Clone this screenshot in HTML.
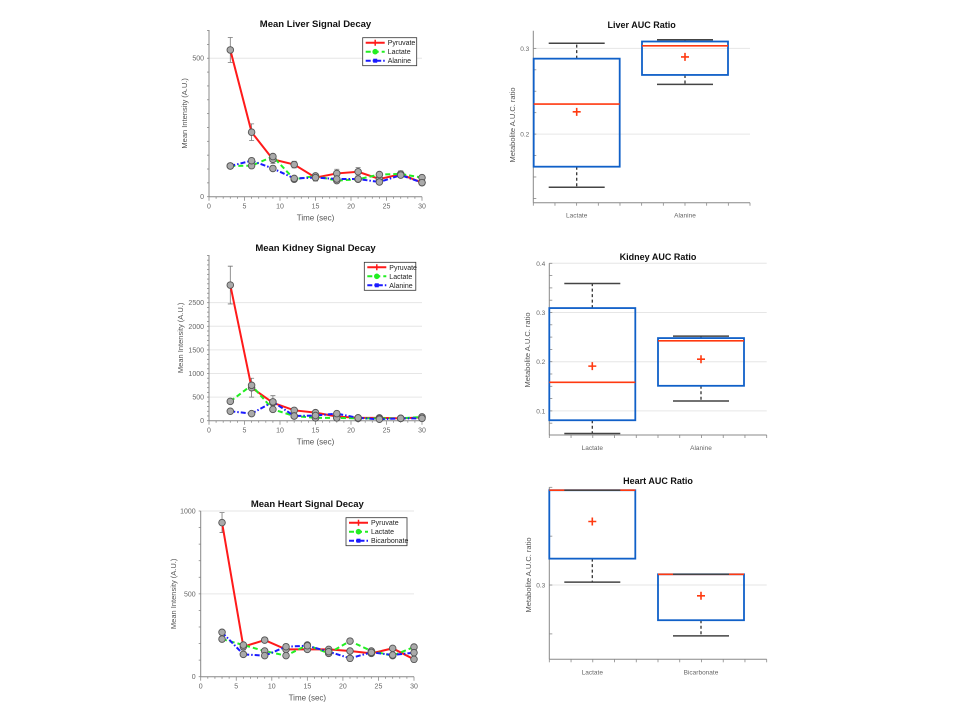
<!DOCTYPE html>
<html><head><meta charset="utf-8">
<style>
html,body{margin:0;padding:0;background:#fff;}
svg{display:block;font-family:"Liberation Sans",Arial,sans-serif;}
</style></head>
<body>
<svg id="fig" width="960" height="720" viewBox="0 0 960 720" xmlns="http://www.w3.org/2000/svg"></svg>
<script>
// ---------- data ----------
const timePoints=[3,6,9,12,15,18,21,24,27,30];
const xTicks=[0,5,10,15,20,25,30];

const liverPyruvate=[530,233,135,116,69,84,90,64,81,51];
const liverLactate=[111,112,145,63,75,58,63,80,82,69];
const liverAlanine=[111,130,102,66,69,64,64,53,78,51];
const liverErr=[45,30,15,12,12,15,15,15,12,10];
const liverYTicks=[0,500];

const kidneyPyruvate=[2873,699,380,220,170,90,60,60,50,70];
const kidneyLactate=[410,750,240,100,60,60,50,50,50,80];
const kidneyAlanine=[200,150,400,100,110,150,60,30,50,50];
const kidneyErr=[400,200,150,50,50,50,30,30,30,30];
const kidneyYTicks=[0,500,1000,1500,2000,2500];

const heartPyruvate=[930,181,221,165,165,165,155,141,171,105];
const heartLactate=[227,191,155,127,191,141,215,155,127,179];
const heartBicarbonate=[268,135,127,181,187,151,111,147,131,145];
const heartErr=[60,20,10,10,10,10,10,10,10,10];
const heartYTicks=[0,500,1000];

const liverBoxCats=['Lactate','Alanine'];
const liverBoxLow=[0.138,0.258];
const liverBoxQ1=[0.162,0.269];
const liverBoxMed=[0.235,0.303];
const liverBoxQ3=[0.288,0.308];
const liverBoxHigh=[0.306,0.310];
const liverBoxMean=[0.226,0.290];
const liverBoxTicks=[0.2,0.3];

const kidneyBoxCats=['Lactate','Alanine'];
const kidneyBoxLow=[0.054,0.120];
const kidneyBoxQ1=[0.081,0.151];
const kidneyBoxMed=[0.158,0.2425];
const kidneyBoxQ3=[0.309,0.248];
const kidneyBoxHigh=[0.359,0.252];
const kidneyBoxMean=[0.191,0.205];
const kidneyBoxTicks=[0.1,0.2,0.3,0.4];

const heartBoxCats=['Lactate','Bicarbonate'];
const heartBoxLow=[0.303,0.248];
const heartBoxQ1=[0.327,0.264];
const heartBoxMed=[0.397,0.311];
const heartBoxQ3=[0.397,0.311];
const heartBoxHigh=[0.397,0.311];
const heartBoxMean=[0.365,0.289];
const heartBoxTicks=[0.3];

// ---------- drawing ----------
const NS='http://www.w3.org/2000/svg';
const svg=document.getElementById('fig');
function mk(tag,attrs,parent){const e=document.createElementNS(NS,tag);for(const k in attrs)e.setAttribute(k,attrs[k]);(parent||svg).appendChild(e);return e;}
function txt(s,attrs,parent){const e=mk('text',attrs,parent);e.textContent=s;return e;}

function lineChart(o){
  const g=mk('g',{});
  
  
  const X=v=>o.x0+(v-0)/30*(o.x1-o.x0);
  const Y=v=>o.y0-v/o.ymax*(o.y0-o.ytop);
  // grid
  o.yTicks.forEach(t=>{ if(t>0){const gl=mk('line',{x1:o.x0,x2:o.x1,y1:Y(t),y2:Y(t),stroke:'#e6e6e6','stroke-width':1},g);
    
    }});
  // axes
  const ya=mk('line',{x1:o.x0,x2:o.x0,y1:o.ytop,y2:o.y0,stroke:'#888','stroke-width':1},g);
  
  
  const xa=mk('line',{x1:o.x0,x2:o.x1,y1:o.y0,y2:o.y0,stroke:'#888','stroke-width':1},g);
  
  
  for(let v=0;v<=30;v++){const len=v%5==0?4:2;const tk=mk('line',{x1:X(v),x2:X(v),y1:o.y0,y2:o.y0+len,stroke:'#888','stroke-width':0.8},g);
    
    }
  for(let v=0;v<=o.ymax+1e-9;v+=o.minor){const tk=mk('line',{x1:o.x0-2,x2:o.x0,y1:Y(v),y2:Y(v),stroke:'#888','stroke-width':0.8},g);
    
    }
  xTicks.forEach(t=>{const l=txt(String(t),{x:X(t),y:o.y0+12,'font-size':7,fill:'#666','text-anchor':'middle'},g);
    
    });
  o.yTicks.forEach(t=>{const l=txt(String(t),{x:o.x0-5,y:Y(t)+2.5,'font-size':7,fill:'#666','text-anchor':'end'},g);
    
    });
  const ti=txt(o.title,{x:(o.x0+o.x1)/2,y:o.titleY,'font-size':9.5,'font-weight':'bold',fill:'#111','text-anchor':'middle'},g);
  
  
  const xl=txt('Time (sec)',{x:(o.x0+o.x1)/2,y:o.y0+24,'font-size':8,fill:'#555','text-anchor':'middle'},g);
  
  
  const yl=txt('Mean Intensity (A.U.)',{x:0,y:0,'font-size':7.5,fill:'#555','text-anchor':'middle',transform:`translate(${o.ylx},${(o.ytop+o.y0)/2}) rotate(-90)`},g);
  
  
  // error bars (pyruvate)
  timePoints.forEach((t,i)=>{const v=o.s1[i],e=o.err[i];
    const eb=mk('path',{d:`M${X(t)},${Y(v-e)}V${Y(v+e)}M${X(t)-2.5},${Y(v-e)}h5M${X(t)-2.5},${Y(v+e)}h5`,stroke:'#777','stroke-width':0.8,fill:'none'},g);
    
    });
  const series=[[o.s1,'#ff1a1a','',o.n1],[o.s2,'#22ee22','5,3',o.n2],[o.s3,'#1a1aff','5,2,1.5,2',o.n3]];
  series.forEach(([s,c,d,n])=>{
    const p=mk('polyline',{points:timePoints.map((t,i)=>X(t)+','+Y(s[i])).join(' '),fill:'none',stroke:c,'stroke-width':2,'stroke-dasharray':d},g);
    
    
  });
  series.forEach(([s,c,d,n])=>{timePoints.forEach((t,i)=>{
    const m=mk('circle',{cx:X(t),cy:Y(s[i]),r:3.3,fill:'#aaa',stroke:'#555','stroke-width':0.9},g);
    
    });});
  // legend
  const L=o.leg;
  const lg=mk('g',{},g);
  
  
  mk('rect',{x:L[0],y:L[1],width:L[2],height:28,fill:'#fff',stroke:'#333','stroke-width':0.8},lg);
  series.forEach(([s,c,d,n],k)=>{const yy=L[1]+5+k*9;
    const ln=mk('line',{x1:L[0]+3,x2:L[0]+22,y1:yy,y2:yy,stroke:c,'stroke-width':2,'stroke-dasharray':d},lg);
    
    
    if(k==0){mk('path',{d:`M${L[0]+12.5},${yy-3}v6M${L[0]+9.5},${yy}h6`,stroke:c,'stroke-width':1.5},lg);}
    else if(k==1){mk('circle',{cx:L[0]+12.5,cy:yy,r:2.8,fill:c},lg);}
    else{mk('rect',{x:L[0]+10.5,y:yy-2,width:4,height:4,fill:c},lg);}
    const lt=txt(n,{x:L[0]+25,y:yy+2.5,'font-size':7,fill:'#222'},lg);
    
    });
}

function boxChart(o){
  const g=mk('g',{});
  
  
  const Y=v=>o.yb-(v-o.vmin)/(o.vmax-o.vmin)*(o.yb-o.yt);
  o.ticks.forEach(t=>{const gl=mk('line',{x1:o.x0,x2:o.x1,y1:Y(t),y2:Y(t),stroke:'#e6e6e6','stroke-width':1},g);
    
    });
  const ya=mk('line',{x1:o.x0,x2:o.x0,y1:o.yt,y2:o.yb,stroke:'#888','stroke-width':1},g);
  
  
  const xa=mk('line',{x1:o.x0,x2:o.x1,y1:o.yb,y2:o.yb,stroke:'#888','stroke-width':1},g);
  
  
  for(let v=Math.ceil(o.vmin/o.minor-1e-6)*o.minor;v<=o.vmax+1e-9;v+=o.minor){const tk=mk('line',{x1:o.x0,x2:o.x0+3,y1:Y(v),y2:Y(v),stroke:'#888','stroke-width':0.8},g);
    
    }
  const n=10;for(let i=0;i<=n;i++){const xx=o.x0+i*(o.x1-o.x0)/n;const tk=mk('line',{x1:xx,x2:xx,y1:o.yb,y2:o.yb+3,stroke:'#888','stroke-width':0.8},g);
    
    }
  o.ticks.forEach(t=>{const l=txt(String(t),{x:o.x0-4,y:Y(t)+2.5,'font-size':6.5,fill:'#666','text-anchor':'end'},g);
    
    });
  const ti=txt(o.title,{x:(o.x0+o.x1)/2,y:o.titleY,'font-size':9,'font-weight':'bold',fill:'#111','text-anchor':'middle'},g);
  
  
  const yl=txt('Metabolite A.U.C. ratio',{x:0,y:0,'font-size':7.5,fill:'#555','text-anchor':'middle',transform:`translate(${o.ylx},${o.yly}) rotate(-90)`},g);
  
  
  o.cats.forEach((c,i)=>{
    const cx=o.centers[i],hw=43,cw=28;
    const wl=mk('path',{d:`M${cx},${Y(o.q3[i])}V${Y(o.hi[i])}M${cx},${Y(o.q1[i])}V${Y(o.lo[i])}`,stroke:'#333','stroke-width':1.3,'stroke-dasharray':'3,2.5',fill:'none'},g);
    
    
    const bx=mk('rect',{x:cx-hw,y:Y(o.q3[i]),width:2*hw,height:Y(o.q1[i])-Y(o.q3[i]),fill:'none',stroke:'#1060c8','stroke-width':1.8},g);
    
    
    const md=mk('line',{x1:cx-hw,x2:cx+hw,y1:Y(o.med[i]),y2:Y(o.med[i]),stroke:'#ff3a10','stroke-width':1.6},g);
    
    
    const cap=mk('path',{d:`M${cx-cw},${Y(o.hi[i])}h${2*cw}M${cx-cw},${Y(o.lo[i])}h${2*cw}`,stroke:'#444','stroke-width':1.5},g);
    
    
    const mn=mk('path',{d:`M${cx-4},${Y(o.mean[i])}h8M${cx},${Y(o.mean[i])-4}v8`,stroke:'#ff3a10','stroke-width':1.6},g);
    
    
    const cl=txt(c,{x:cx,y:o.yb+15,'font-size':6.5,fill:'#666','text-anchor':'middle'},g);
    
    
  });
}

lineChart({name:'liver-decay-chart',title:'Mean Liver Signal Decay',x0:209,x1:422,y0:196.7,ytop:30,ymax:602,minor:50,yTicks:liverYTicks,titleY:27,ylx:187,
  s1:liverPyruvate,s2:liverLactate,s3:liverAlanine,err:liverErr,n1:'Pyruvate',n2:'Lactate',n3:'Alanine',leg:[362.7,37.7,54]});
lineChart({name:'kidney-decay-chart',title:'Mean Kidney Signal Decay',x0:209,x1:422,y0:420.7,ytop:255,ymax:3510,minor:100,yTicks:kidneyYTicks,titleY:251,ylx:183,
  s1:kidneyPyruvate,s2:kidneyLactate,s3:kidneyAlanine,err:kidneyErr,n1:'Pyruvate',n2:'Lactate',n3:'Alanine',leg:[364.3,262.3,51.5]});
lineChart({name:'heart-decay-chart',title:'Mean Heart Signal Decay',x0:200.7,x1:414,y0:676.7,ytop:511,ymax:1000,minor:100,yTicks:heartYTicks,titleY:507,ylx:176,
  s1:heartPyruvate,s2:heartLactate,s3:heartBicarbonate,err:heartErr,n1:'Pyruvate',n2:'Lactate',n3:'Bicarbonate',leg:[346,517.7,61]});

boxChart({name:'liver-auc-boxplot',title:'Liver AUC Ratio',x0:533.3,x1:750,yt:30.7,yb:202.7,vmin:0.120,vmax:0.3206,minor:0.025,ticks:liverBoxTicks,titleY:28,ylx:515,yly:125,
  centers:[576.7,685],cats:liverBoxCats,lo:liverBoxLow,q1:liverBoxQ1,med:liverBoxMed,q3:liverBoxQ3,hi:liverBoxHigh,mean:liverBoxMean});
boxChart({name:'kidney-auc-boxplot',title:'Kidney AUC Ratio',x0:549.3,x1:766.7,yt:263.3,yb:435,vmin:0.051,vmax:0.4,minor:0.025,ticks:kidneyBoxTicks,titleY:260,ylx:530,yly:350,
  centers:[592.3,701],cats:kidneyBoxCats,lo:kidneyBoxLow,q1:kidneyBoxQ1,med:kidneyBoxMed,q3:kidneyBoxQ3,hi:kidneyBoxHigh,mean:kidneyBoxMean});
boxChart({name:'heart-auc-boxplot',title:'Heart AUC Ratio',x0:549.3,x1:766.7,yt:487.3,yb:659.3,vmin:0.224,vmax:0.4,minor:0.05,ticks:heartBoxTicks,titleY:484,ylx:531,yly:575,
  centers:[592.3,701],cats:heartBoxCats,lo:heartBoxLow,q1:heartBoxQ1,med:heartBoxMed,q3:heartBoxQ3,hi:heartBoxHigh,mean:heartBoxMean});
</script>
</body></html>
